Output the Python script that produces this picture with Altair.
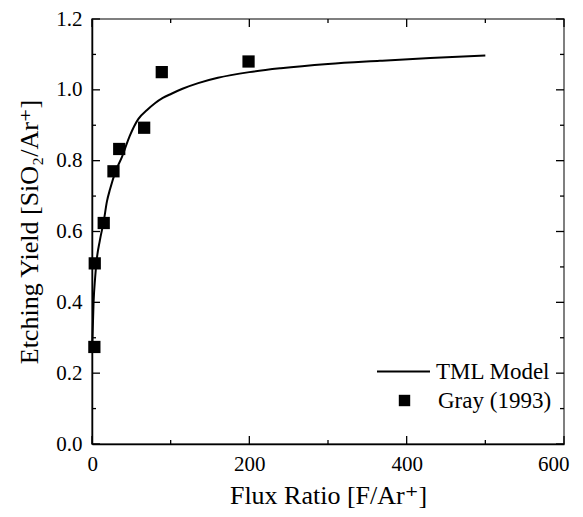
import altair as alt
import pandas as pd

# ---- data ----
model_x = [0.5, 2, 4, 6, 10, 15, 19, 23, 30, 38, 48, 59, 70, 80, 90, 101,
           115, 135, 160, 200, 240, 300, 366, 430, 500]
model_y = [0.29, 0.40, 0.47, 0.52, 0.575, 0.63, 0.685, 0.72, 0.77, 0.81, 0.87,
           0.918, 0.943, 0.962, 0.977, 0.989, 1.003, 1.019, 1.034, 1.050,
           1.061, 1.073, 1.082, 1.090, 1.097]

gray_x = [3, 3.5, 14.9, 27.3, 34.6, 66.3, 88.7, 199]
gray_y = [0.274, 0.510, 0.624, 0.770, 0.833, 0.893, 1.050, 1.080]

series_names = ["TML Model", "Gray (1993)"]

x_major = [0, 200, 400, 600]
x_minor = [100, 300, 500]
y_major = [0.0, 0.2, 0.4, 0.6, 0.8, 1.0, 1.2]
y_minor = [0.1, 0.3, 0.5, 0.7, 0.9, 1.1]

x_title = "Flux Ratio [F/Ar\u207a]"
y_title = "Etching Yield [SiO\u2082/Ar\u207a]"

# ---- tables ----
line_df = pd.DataFrame({"x": model_x, "y": model_y, "series": series_names[0]})
pts_df = pd.DataFrame({"x": gray_x, "y": gray_y, "series": series_names[1]})
xmaj_df = pd.DataFrame({"v": x_major})
xmin_df = pd.DataFrame({"v": x_minor})
ymaj_df = pd.DataFrame({"v": y_major})
ymin_df = pd.DataFrame({"v": y_minor})

W, H = 472, 425
FONT = "'Liberation Serif', 'Times New Roman', Times, 'DejaVu Serif', serif"

xscale = alt.Scale(domain=[0, 600], nice=False, zero=False)
yscale = alt.Scale(domain=[0, 1.2], nice=False, zero=False)

X = alt.X("x:Q", scale=xscale, axis=alt.Axis(
    values=x_major, format="d", ticks=False, grid=False,
    domainColor="black", domainWidth=1.5,
    labelFont=FONT, labelFontSize=21, labelColor="black", labelPadding=9,
    labelFlush=True, labelFlushOffset=5,
    title=x_title, titleFont=FONT, titleFontSize=26, titleFontWeight="normal",
    titleColor="black", titlePadding=8))
Y = alt.Y("y:Q", scale=yscale, axis=alt.Axis(
    values=y_major, format=".1f", ticks=False, grid=False,
    domainColor="black", domainWidth=1.5,
    labelFont=FONT, labelFontSize=21, labelColor="black", labelPadding=10,
    labelFlush=False,
    title=y_title, titleFont=FONT, titleFontSize=26, titleFontWeight="normal",
    titleColor="black", titlePadding=13))

line = alt.Chart(line_df).mark_line(
    color="black", strokeWidth=2, interpolate="monotone"
).encode(
    x=X, y=Y,
    color=alt.Color("series:N",
                    scale=alt.Scale(domain=[series_names[0]], range=["black"]),
                    legend=alt.Legend(
                        orient="none", legendX=284, legendY=325, padding=0,
                        title=None, symbolType="stroke", symbolSize=2809,
                        symbolStrokeWidth=2, symbolStrokeColor="black",
                        labelFont=FONT, labelFontSize=23, labelColor="black",
                        labelOffset=5)),
)

points = alt.Chart(pts_df).mark_point(
    filled=True, size=150, color="black", opacity=1
).encode(
    x="x:Q", y="y:Q",
    shape=alt.Shape("series:N",
                    scale=alt.Scale(domain=[series_names[1]], range=["square"]),
                    legend=alt.Legend(
                        orient="none", legendX=301, legendY=370, padding=0,
                        title=None, symbolSize=130, symbolFillColor="black",
                        symbolStrokeWidth=0, symbolOpacity=1,
                        labelFont=FONT, labelFontSize=23, labelColor="black",
                        labelOffset=22)),
)

TICK_COLOR = "black"


def vticks(df, y0, y1, w):
    return alt.Chart(df).mark_rule(color=TICK_COLOR, strokeWidth=w).encode(
        x=alt.X("v:Q", scale=xscale), y=alt.value(y0), y2=alt.value(y1))


def hticks(df, x0, x1, w):
    return alt.Chart(df).mark_rule(color=TICK_COLOR, strokeWidth=w).encode(
        y=alt.Y("v:Q", scale=yscale), x=alt.value(x0), x2=alt.value(x1))


ticks = [
    vticks(xmaj_df, H, H - 8, 1.3), vticks(xmin_df, H, H - 4, 1.3),
    vticks(xmaj_df, 0, 8, 1.3), vticks(xmin_df, 0, 4, 1.3),
    hticks(ymaj_df, 0, 8, 1.3), hticks(ymin_df, 0, 4, 1.3),
    hticks(ymaj_df, W, W - 8, 1.3), hticks(ymin_df, W, W - 4, 1.3),
]

chart = alt.layer(line, points, *ticks).resolve_scale(
    color="independent", shape="independent"
).properties(
    width=W, height=H,
    autosize=alt.AutoSizeParams(type="none"),
    padding={"left": 84, "top": 11, "right": 11, "bottom": 65},
    background="white",
).configure(
    font=FONT
).configure_axis(
    labelFont=FONT, titleFont=FONT
).configure_legend(
    labelFont=FONT
).configure_view(
    stroke="#555555", strokeWidth=1.5
)

chart.save("out.html", embed_options={"renderer": "svg", "actions": False})
